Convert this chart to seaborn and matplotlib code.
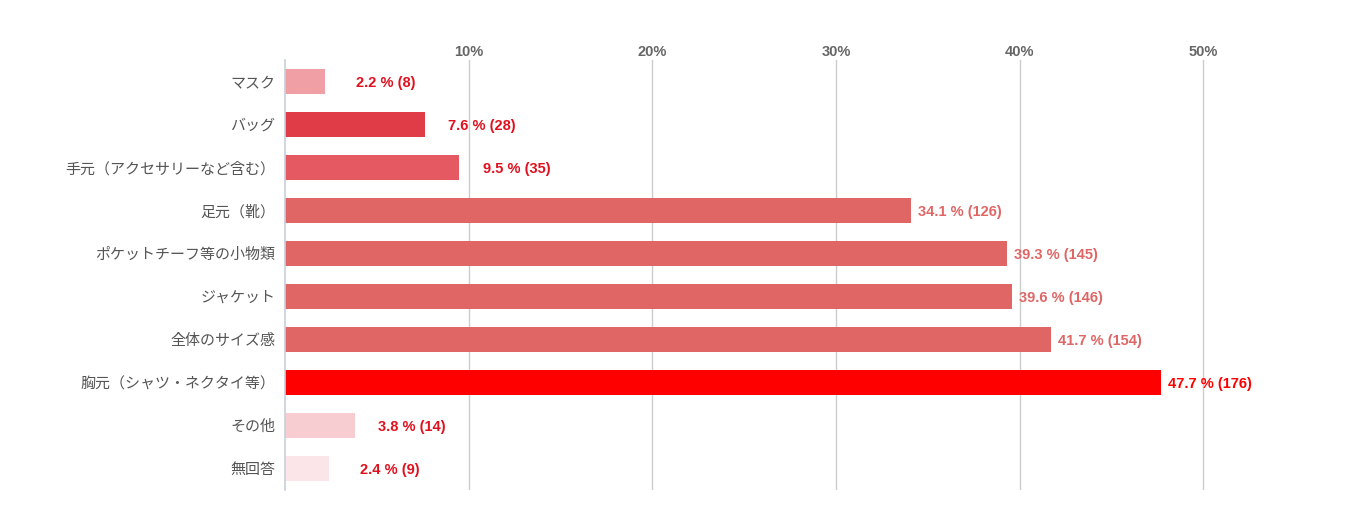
import pandas as pd
import matplotlib.pyplot as plt
import matplotlib.ticker as mticker
import seaborn as sns

# === datos ===
CATEGORIAS = ["マスク", "バッグ", "手元（アクセサリーなど含む）", "足元（靴）",
              "ポケットチーフ等の小物類", "ジャケット", "全体のサイズ感",
              "胸元（シャツ・ネクタイ等）", "その他", "無回答"]
PORCENTAJES = [2.2, 7.6, 9.5, 34.1, 39.3, 39.6, 41.7, 47.7, 3.8, 2.4]
CONTEOS = [8, 28, 35, 126, 145, 146, 154, 176, 14, 9]
COLORES_BARRA = ["#f0a0a5", "#e03c47", "#e55a62", "#e06666", "#e06666",
                 "#e06666", "#e06666", "#ff0000", "#f7cdd2", "#fbe5e8"]
COLORES_TEXTO = ["#e0101e", "#e0101e", "#e0101e", "#e06666", "#e06666",
                 "#e06666", "#e06666", "#ff0000", "#e0101e", "#e0101e"]
TICKS_X = [10, 20, 30, 40, 50]

df = pd.DataFrame({"cat": CATEGORIAS, "pct": PORCENTAJES, "n": CONTEOS})

sns.set_style("white")
plt.rcParams["font.family"] = ["Noto Sans CJK JP", "DejaVu Sans"]

fig = plt.figure(figsize=(13.69, 5.16), dpi=100)
ax = fig.add_axes([0.2082, 0.0504, 0.7378, 0.8333])

sns.barplot(data=df, y="cat", x="pct", hue="cat", palette=COLORES_BARRA,
            orient="h", width=0.6, legend=False, ax=ax,
            edgecolor="none", saturation=1)

ax.set_xlim(0, 55)
ax.set_ylim(9.5, -0.5)
ax.set_xlabel("")
ax.set_ylabel("")

# eje x arriba
ax.xaxis.tick_top()
ax.set_xticks(TICKS_X)
ax.xaxis.set_major_formatter(mticker.FuncFormatter(lambda v, p: f"{int(v)}%"))
ax.tick_params(axis="x", length=0, pad=1, labelsize=10.5, labelcolor="#666666")
for t in ax.get_xticklabels():
    t.set_fontweight("bold")
    t.set_family(["Liberation Sans", "DejaVu Sans"])
ax.grid(axis="x", color="#cccccc", linewidth=1)
ax.set_axisbelow(True)

# eje y
ax.tick_params(axis="y", which="major", length=0, pad=7, labelsize=10.8,
               labelcolor="#555555")
ax.set_yticks([i - 0.5 for i in range(len(CATEGORIAS) + 1)], minor=True)
ax.tick_params(axis="y", which="minor", length=5, color="#b8c4d4", width=1.2)

for s in ["top", "right", "bottom"]:
    ax.spines[s].set_visible(False)
ax.spines["left"].set_color("#c8d0dc")
ax.spines["left"].set_linewidth(1.2)

# etiquetas
for i, (v, n) in enumerate(zip(PORCENTAJES, CONTEOS)):
    if v > 30:
        off = 5
    elif n < 10:
        off = 22
    else:
        off = 17
    ax.annotate(f"{v} % ({n})", xy=(v, i), xytext=(off, -1),
                textcoords="offset points", va="center", ha="left",
                fontsize=10.5, fontweight="bold", color=COLORES_TEXTO[i],
                family=["Liberation Sans", "DejaVu Sans"])

plt.savefig("out.png", dpi=100)
plt.close()
